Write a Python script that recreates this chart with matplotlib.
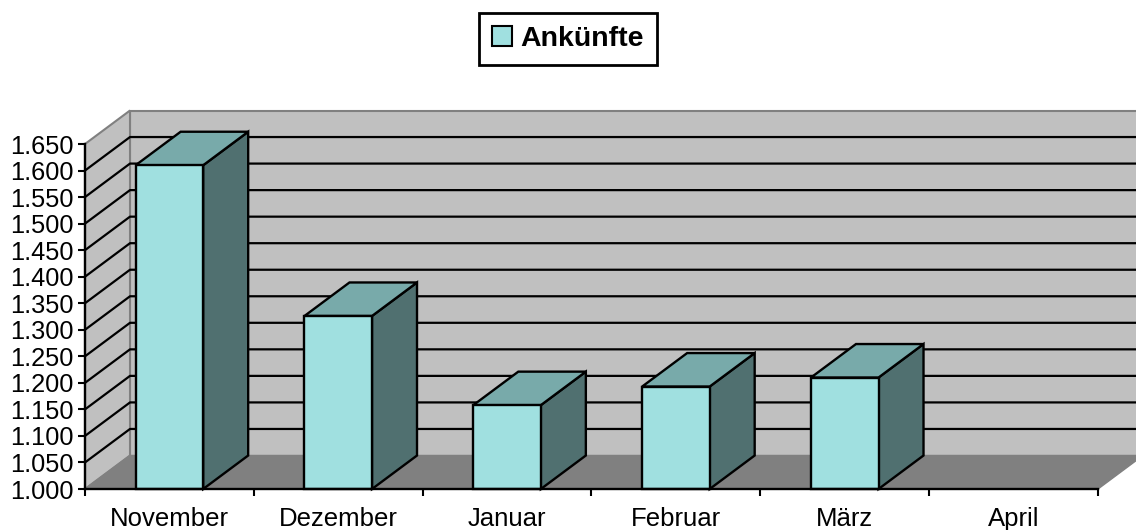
import matplotlib.pyplot as plt
from matplotlib.patches import Polygon, Patch
from matplotlib.ticker import FuncFormatter, MultipleLocator, FixedLocator

plt.rcParams['font.family'] = ['Liberation Sans', 'DejaVu Sans']

monate = ['November', 'Dezember', 'Januar', 'Februar', 'März', 'April']
ankuenfte = [1610, 1326, 1158, 1193, 1210, None]
y_min, y_max = 1000, 1650

wall = '#C0C0C0'
floor = '#808080'
edge_grey = '#808080'
bar_front = '#A0E0E0'
bar_top = '#78AAAA'
bar_side = '#507070'

fig = plt.figure(figsize=(11.36, 5.30), dpi=100)
ax = fig.add_axes([85 / 1136, 41 / 530, 1013 / 1136, 345 / 530])
ax.set_xlim(-0.5, len(monate) - 0.5)
ax.set_ylim(y_min, y_max)
ax.patch.set_visible(False)

# depth of the fake 3d box, in data units
dx = 45 / (1013 / len(monate))
dy = 33.5 / (345 / (y_max - y_min))
x0, x1 = -0.5, len(monate) - 0.5

def poly(pts, fc, ec, lw=1.5, z=1):
    ax.add_patch(Polygon(pts, closed=True, facecolor=fc, edgecolor=ec,
                         linewidth=lw, clip_on=False, zorder=z))

# back wall, left wall, floor
poly([(x0 + dx, y_min + dy), (x1 + dx, y_min + dy), (x1 + dx, y_max + dy), (x0 + dx, y_max + dy)], wall, edge_grey)
poly([(x0, y_min), (x0, y_max), (x0 + dx, y_max + dy), (x0 + dx, y_min + dy)], wall, edge_grey)
poly([(x0, y_min), (x1, y_min), (x1 + dx, y_min + dy), (x0 + dx, y_min + dy)], floor, edge_grey, lw=1)

# gridlines on both walls
for v in range(y_min + 50, y_max, 50):
    ax.plot([x0, x0 + dx, x1 + dx], [v, v + dy, v + dy], color='black',
            linewidth=1.6, clip_on=False, zorder=1.5)

# bars
hw = 0.2
for i, v in enumerate(ankuenfte):
    if v is None:
        continue
    l, r = i - hw, i + hw
    poly([(r, y_min), (r + dx, y_min + dy), (r + dx, v + dy), (r, v)], bar_side, 'black', lw=1.7, z=3)
    poly([(l, v), (r, v), (r + dx, v + dy), (l + dx, v + dy)], bar_top, 'black', lw=1.7, z=3)
    poly([(l, y_min), (r, y_min), (r, v), (l, v)], bar_front, 'black', lw=1.7, z=3)

# axes
for s in ['top', 'right']:
    ax.spines[s].set_visible(False)
for s in ['left', 'bottom']:
    ax.spines[s].set_linewidth(1.7)
    ax.spines[s].set_zorder(4)

ax.yaxis.set_major_locator(MultipleLocator(50))
ax.yaxis.set_major_formatter(FuncFormatter(lambda v, p: f'{v:,.0f}'.replace(',', '.')))
ax.tick_params(axis='y', length=5, width=1.5, pad=3.5, labelsize=18.3)

ax.set_xticks(range(len(monate)))
ax.set_xticklabels(monate, fontsize=18.5)
ax.xaxis.set_minor_locator(FixedLocator([i - 0.5 for i in range(len(monate) + 1)]))
ax.tick_params(axis='x', which='major', length=0, pad=13)
ax.tick_params(axis='x', which='minor', length=5, width=1.5)

leg = fig.legend(handles=[Patch(facecolor=bar_front, edgecolor='black', linewidth=1.5, label='Ankünfte')],
                 loc='upper center', bbox_to_anchor=(0.5, 1 - 13 / 530), borderaxespad=0,
                 prop={'weight': 'bold', 'size': 20.5}, frameon=True, fancybox=False,
                 edgecolor='black', framealpha=1, handlelength=0.7, handleheight=0.7,
                 handletextpad=0.3, borderpad=0.45)
leg.get_frame().set_linewidth(2)

fig.savefig('out.png', dpi=100)
